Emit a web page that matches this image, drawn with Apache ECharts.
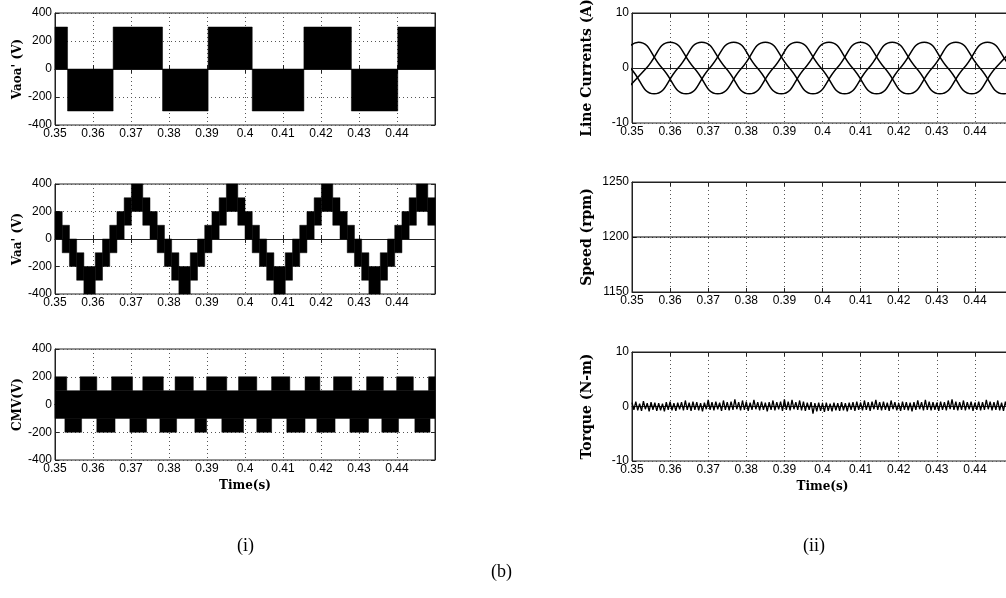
<!DOCTYPE html>
<html>
<head>
<meta charset="utf-8">
<title>Inverter waveforms</title>
<style>
  html, body { margin: 0; padding: 0; background: #fff; }
  #chart { width: 1006px; height: 598px; }
</style>
<script src="https://cdn.jsdelivr.net/npm/echarts@6/dist/echarts.min.js"></script>
</head>
<body>
<div id="chart"></div>
<script>
// time axis ticks
var timeMin = 0.35;
var timeMax = 0.45;
var timeStep = 0.01;

// Vaoa' : pole voltage, PWM blocks between 0 and +/-300
var vaoaEdges = [0.35, 0.3533, 0.3653, 0.3783, 0.3903, 0.4019, 0.4155, 0.4280, 0.4402, 0.45];
var vaoaLevels = [300, -300, 300, -300, 300, -300, 300, -300, 300];

// Vaa' : stepped phase voltage, black band [low, low + 200]
var vaaEdges = [0.35, 0.3519, 0.3538, 0.3557, 0.3576, 0.3606, 0.3625, 0.3644, 0.3663, 0.3682,
  0.3701, 0.3731, 0.3750, 0.3769, 0.3788, 0.3807, 0.3826, 0.3856, 0.3875, 0.3894,
  0.3913, 0.3932, 0.3951, 0.3981, 0.4000, 0.4019, 0.4038, 0.4057, 0.4076, 0.4106,
  0.4125, 0.4144, 0.4163, 0.4182, 0.4201, 0.4231, 0.4250, 0.4269, 0.4288, 0.4307,
  0.4326, 0.4356, 0.4375, 0.4394, 0.4413, 0.4432, 0.4451, 0.4481, 0.45];
var vaaLow = [0, -100, -200, -300, -400, -300, -200, -100, 0, 100,
  200, 100, 0, -100, -200, -300, -400, -300, -200, -100,
  0, 100, 200, 100, 0, -100, -200, -300, -400, -300,
  -200, -100, 0, 100, 200, 100, 0, -100, -200, -300,
  -400, -300, -200, -100, 0, 100, 200, 100];
var vaaBand = 200;

// CMV : core band -100..100, plus pulses up to 200 and down to -200
var cmvCore = [-100, 100];
var cmvTop = [[0.3500, 0.3531], [0.3566, 0.3610], [0.3649, 0.3704], [0.3731, 0.3785], [0.3816, 0.3864],
  [0.3899, 0.3952], [0.3983, 0.4031], [0.4070, 0.4118], [0.4158, 0.4197], [0.4233, 0.4281],
  [0.4320, 0.4364], [0.4399, 0.4443], [0.4483, 0.4500]];
var cmvBottom = [[0.3526, 0.3570], [0.3610, 0.3658], [0.3697, 0.3741], [0.3776, 0.3820], [0.3868, 0.3899],
  [0.3939, 0.3996], [0.4031, 0.4070], [0.4110, 0.4158], [0.4189, 0.4237], [0.4276, 0.4325],
  [0.4360, 0.4404], [0.4447, 0.4487]];

// line currents (peaks, zeros, troughs of each phase)
var iaTime = [0.3454, 0.3517, 0.3579, 0.3642, 0.3704, 0.3767, 0.3829, 0.3892, 0.3954, 0.4017,
  0.4079, 0.4142, 0.4204, 0.4267, 0.4329, 0.4392, 0.4454, 0.4517];
var iaVal = [0, 4.7, 0, -4.7, 0, 4.7, 0, -4.7, 0, 4.7, 0, -4.7, 0, 4.7, 0, -4.7, 0, 4.7];
var ibTime = [0.3475, 0.3538, 0.3600, 0.3663, 0.3725, 0.3788, 0.3850, 0.3913, 0.3975, 0.4038,
  0.4100, 0.4163, 0.4225, 0.4288, 0.4350, 0.4413, 0.4475, 0.4538];
var ibVal = [-4.7, 0, 4.7, 0, -4.7, 0, 4.7, 0, -4.7, 0, 4.7, 0, -4.7, 0, 4.7, 0, -4.7, 0];
var icTime = [0.3433, 0.3496, 0.3558, 0.3621, 0.3683, 0.3746, 0.3808, 0.3871, 0.3933, 0.3996,
  0.4058, 0.4121, 0.4183, 0.4246, 0.4308, 0.4371, 0.4433, 0.4496, 0.4558];
var icVal = [4.7, 0, -4.7, 0, 4.7, 0, -4.7, 0, 4.7, 0, -4.7, 0, 4.7, 0, -4.7, 0, 4.7, 0, -4.7];

// speed
var speedTime = [0.35, 0.45];
var speedVal = [1200, 1200];

// torque samples, every 0.5 ms from 0.35 s
var torqueStart = 0.35;
var torqueDt = 0.0005;
var torqueVal = [
  0.7, -0.6, 0.9, -0.7, 0.5, -0.8, 1.0, -0.5, 0.6, -0.9,
  0.8, -0.6, 0.7, -0.8, 0.6, -0.7, 0.5, -0.9, 0.8, -0.6,
  0.9, -0.7, 0.6, -0.8, 0.7, -0.5, 0.8, -0.7, 1.1, -0.6,
  0.7, -0.8, 0.9, -0.6, 0.8, -0.7, 0.6, -0.9, 0.7, -0.5,
  1.2, -0.6, 0.8, -0.7, 0.9, -0.5, 0.7, -0.8, 1.1, -0.6,
  0.8, -0.7, 0.9, -0.6, 1.3, -0.5, 0.8, -0.7, 1.1, -0.6,
  0.9, -0.8, 0.7, -0.6, 1.2, -0.5, 0.8, -0.7, 0.9, -0.6,
  0.7, -0.9, 0.8, -0.6, 1.1, -0.7, 0.8, -0.5, 0.9, -0.8,
  1.3, -0.6, 0.9, -0.7, 1.2, -0.5, 0.8, -0.6, 1.1, -0.7,
  0.9, -0.8, 0.7, -0.6, 0.8, -1.3, 0.6, -0.9, 0.7, -0.8,
  0.6, -1.0, 0.7, -0.8, 0.5, -0.9, 0.7, -0.7, 0.6, -0.8,
  0.8, -0.7, 0.6, -0.9, 0.7, -0.6, 0.8, -0.8, 0.9, -0.6,
  0.7, -0.7, 1.1, -0.6, 0.8, -0.8, 0.9, -0.5, 1.2, -0.6,
  0.8, -0.7, 0.9, -0.6, 0.7, -0.8, 1.1, -0.5, 0.8, -0.7,
  0.6, -0.8, 0.9, -0.6, 0.8, -0.7, 0.7, -0.9, 0.8, -0.6,
  1.1, -0.5, 0.8, -0.7, 1.2, -0.6, 0.9, -0.7, 0.8, -0.6,
  0.7, -0.8, 0.9, -0.6, 0.8, -0.7, 1.1, -0.5, 1.3, -0.6,
  0.9, -0.7, 0.8, -0.6, 1.1, -0.7, 0.8, -0.5, 0.9, -0.8,
  0.7, -0.6, 0.9, -0.7, 0.8, -0.6, 1.2, -0.5, 0.9, -0.7,
  0.8, -0.6, 1.1, -0.7, 0.7, -0.8, 0.9, -0.6, 0.8, -0.7, 0.9
];

// ---- build chart data ----
function pairs(xs, ys) {
  return ys.map(function (y, i) { return [xs[i], y]; });
}
var vaoaBlocks = vaoaLevels.map(function (v, i) {
  return [vaoaEdges[i], vaoaEdges[i + 1], Math.min(0, v), Math.max(0, v)];
});
var vaaBlocks = vaaLow.map(function (lo, i) {
  return [vaaEdges[i], vaaEdges[i + 1], lo, lo + vaaBand];
});
var cmvBlocks = [[timeMin, timeMax, cmvCore[0], cmvCore[1]]]
  .concat(cmvTop.map(function (b) { return [b[0], b[1], 100, 200]; }))
  .concat(cmvBottom.map(function (b) { return [b[0], b[1], -200, -100]; }));
var torqueData = torqueVal.map(function (v, i) { return [torqueStart + i * torqueDt, v]; });

var tickFont = 'Liberation Sans Narrow, Arial Narrow, Liberation Sans, sans-serif';
var nameFont = 'DejaVu Serif, Liberation Serif, serif';

var grids = [
  { left: 55, top: 13, width: 380, height: 112 },
  { left: 55, top: 184, width: 380, height: 110 },
  { left: 55, top: 349, width: 380, height: 111 },
  { left: 632, top: 13, width: 381, height: 110 },
  { left: 632, top: 182, width: 381, height: 110 },
  { left: 632, top: 352, width: 381, height: 109 }
].map(function (g) {
  g.show = true;
  g.borderColor = '#222';
  g.borderWidth = 1;
  g.outerBoundsMode = 'none';
  g.containLabel = false;
  return g;
});

var dotted = { color: '#555', type: [1, 3], width: 1 };

function xAxisFor(i, withName) {
  return {
    type: 'value', gridIndex: i,
    min: timeMin, max: timeMax, interval: timeStep,
    name: withName ? 'Time(s)' : '',
    nameLocation: 'middle', nameGap: 20,
    nameTextStyle: { fontFamily: nameFont, fontWeight: 'bold', fontSize: 12, color: '#000' },
    axisLine: { lineStyle: { color: '#222' } },
    axisTick: { inside: true, length: 4, lineStyle: { color: '#222' } },
    axisLabel: {
      showMaxLabel: false, margin: 3, color: '#000', fontSize: 12, fontFamily: tickFont,
      formatter: function (v) { return String(+v.toFixed(2)); }
    },
    splitLine: { show: true, lineStyle: dotted }
  };
}

// top edge: ticks only
function xTopFor(i) {
  return {
    type: 'value', gridIndex: i, position: 'top',
    min: timeMin, max: timeMax, interval: timeStep,
    axisLine: { lineStyle: { color: '#222' } },
    axisTick: { inside: true, length: 4, lineStyle: { color: '#222' } },
    axisLabel: { show: false }, splitLine: { show: false }
  };
}

function yAxisFor(i, name, min, max, interval, gap, size) {
  return {
    type: 'value', gridIndex: i,
    min: min, max: max, interval: interval,
    name: name, nameLocation: 'middle', nameGap: gap,
    nameTextStyle: { fontFamily: nameFont, fontWeight: 'bold', fontSize: size, color: '#000' },
    axisLine: { lineStyle: { color: '#222' } },
    axisTick: { inside: true, length: 4, lineStyle: { color: '#222' } },
    axisLabel: {
      margin: 3, color: '#000', fontSize: 12, fontFamily: tickFont,
      formatter: function (v) { return String(v); }
    },
    splitLine: { show: true, lineStyle: dotted }
  };
}

// right edge of the left column: ticks only
function yRightFor(i, min, max, interval) {
  return {
    type: 'value', gridIndex: i, position: 'right',
    min: min, max: max, interval: interval,
    axisLine: { show: true, lineStyle: { color: '#222' } },
    axisTick: { show: true, inside: true, length: 4, lineStyle: { color: '#222' } },
    axisLabel: { show: false }, splitLine: { show: false }
  };
}

function renderBlock(params, api) {
  var a = api.coord([api.value(0), api.value(3)]);
  var b = api.coord([api.value(1), api.value(2)]);
  var rect = echarts.graphic.clipRectByRect(
    { x: a[0], y: a[1], width: b[0] - a[0], height: b[1] - a[1] },
    { x: params.coordSys.x, y: params.coordSys.y, width: params.coordSys.width, height: params.coordSys.height }
  );
  if (!rect) return null;
  return { type: 'rect', shape: rect, style: { fill: '#000', stroke: '#000', lineWidth: 0.5 } };
}

function blockSeries(i, data) {
  return {
    type: 'custom', xAxisIndex: i, yAxisIndex: i,
    data: data, renderItem: renderBlock,
    encode: { x: [0, 1], y: [2, 3] }, silent: true
  };
}

function lineSeries(i, data, width, smooth) {
  return {
    type: 'line', xAxisIndex: i, yAxisIndex: i,
    data: data, showSymbol: false, smooth: smooth || false, clip: true,
    lineStyle: { color: '#000', width: width }, silent: true
  };
}

var option = {
  animation: false,
  backgroundColor: '#fff',
  grid: grids,
  xAxis: [
    xAxisFor(0, false), xAxisFor(1, false), xAxisFor(2, true),
    xAxisFor(3, false), xAxisFor(4, false), xAxisFor(5, true),
    xTopFor(0), xTopFor(1), xTopFor(2), xTopFor(3), xTopFor(4), xTopFor(5)
  ],
  yAxis: [
    yAxisFor(0, "Vaoa' (V)", -400, 400, 200, 28, 12),
    yAxisFor(1, "Vaa' (V)", -400, 400, 200, 28, 12),
    yAxisFor(2, 'CMV(V)', -400, 400, 200, 28, 12),
    yAxisFor(3, 'Line Currents (A)', -10, 10, 10, 38, 14),
    yAxisFor(4, 'Speed (rpm)', 1150, 1250, 50, 38, 14),
    yAxisFor(5, 'Torque (N-m)', -10, 10, 10, 38, 14),
    yRightFor(0, -400, 400, 200), yRightFor(1, -400, 400, 200), yRightFor(2, -400, 400, 200)
  ],
  series: [
    blockSeries(0, vaoaBlocks),
    blockSeries(1, vaaBlocks),
    blockSeries(2, cmvBlocks),
    lineSeries(3, pairs(iaTime, iaVal), 1.5, 0.5),
    lineSeries(3, pairs(ibTime, ibVal), 1.5, 0.5),
    lineSeries(3, pairs(icTime, icVal), 1.5, 0.5),
    lineSeries(4, pairs(speedTime, speedVal), 1.2),
    lineSeries(5, torqueData, 1.3)
  ],
  graphic: [
    { type: 'text', left: 237, top: 537, style: { text: '(i)', font: '18px Liberation Serif', fill: '#000' } },
    { type: 'text', left: 803, top: 537, style: { text: '(ii)', font: '18px Liberation Serif', fill: '#000' } },
    { type: 'text', left: 491, top: 563, style: { text: '(b)', font: '18px Liberation Serif', fill: '#000' } }
  ]
};

var chart = echarts.init(document.getElementById('chart'));
chart.setOption(option);
window.onresize = function () { chart.resize(); };
</script>
</body>
</html>
